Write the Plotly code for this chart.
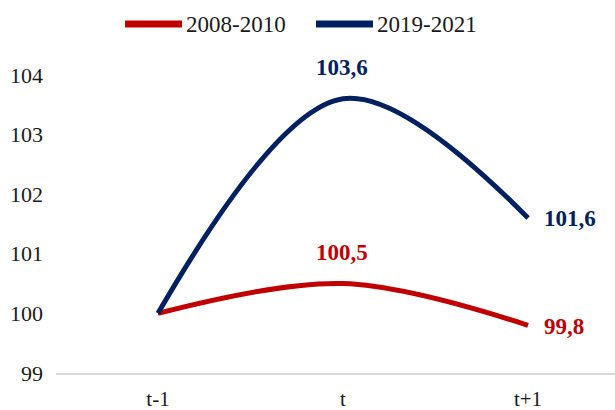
import plotly.graph_objects as go

periods = ["t-1", "t", "t+1"]
crisis_2008 = [100.0, 100.5, 99.8]
crisis_2019 = [100.0, 103.6, 101.6]
series_names = ["2008-2010", "2019-2021"]
colors = ["#C00000", "#002060"]
y_ticks = [99, 100, 101, 102, 103, 104]

SERIF = "Liberation Serif"

def fmt(v):
    return f"{v:.1f}".replace(".", ",")

fig = go.Figure()
for name, vals, col in zip(series_names, [crisis_2008, crisis_2019], colors):
    fig.add_trace(go.Scatter(
        x=periods, y=vals, name=name, mode="lines",
        line=dict(color=col, width=5, shape="spline", smoothing=1.0),
    ))

# value labels: peak above the point, last value to the right
for vals, col in zip([crisis_2008, crisis_2019], colors):
    fig.add_annotation(x=periods[1], y=vals[1], text=f"<b>{fmt(vals[1])}</b>",
                       showarrow=False, yshift=31, xshift=-1,
                       font=dict(color=col, size=23, family=SERIF))
    fig.add_annotation(x=periods[2], y=vals[2], text=f"<b>{fmt(vals[2])}</b>",
                       showarrow=False, xanchor="left", xshift=14, yshift=-1,
                       font=dict(color=col, size=23, family=SERIF))

# legend row above the plot: swatch line + series name
legend_y = 1.064
legend_x = [0.1234, 0.4651]
swatch_len = 0.1020
for name, col, x0 in zip(series_names, colors, legend_x):
    fig.add_shape(type="line", xref="paper", yref="paper",
                  x0=x0, x1=x0 + swatch_len, y0=legend_y, y1=legend_y,
                  line=dict(color=col, width=7))
    fig.add_annotation(xref="paper", yref="paper", x=x0 + swatch_len + 0.004,
                       y=legend_y, text=name, showarrow=False,
                       xanchor="left", yanchor="middle",
                       font=dict(size=23, family=SERIF, color="#1a1a1a"))

fig.update_layout(
    width=615, height=410,
    margin=dict(l=56, r=0, t=45, b=37),
    paper_bgcolor="white", plot_bgcolor="white",
    font=dict(family=SERIF, size=21, color="#1a1a1a"),
    showlegend=False,
    xaxis=dict(type="category", range=[-0.551, 2.47], showgrid=False,
               showline=True, linecolor="#d9d9d9", linewidth=2,
               ticks="", tickfont=dict(size=21), ticklabelstandoff=6),
    yaxis=dict(range=[99, 104.5], tickvals=y_ticks, showgrid=False,
               zeroline=False, showline=False, ticks="",
               tickfont=dict(size=22), ticklabelstandoff=12),
)

fig.write_html("out.html")
